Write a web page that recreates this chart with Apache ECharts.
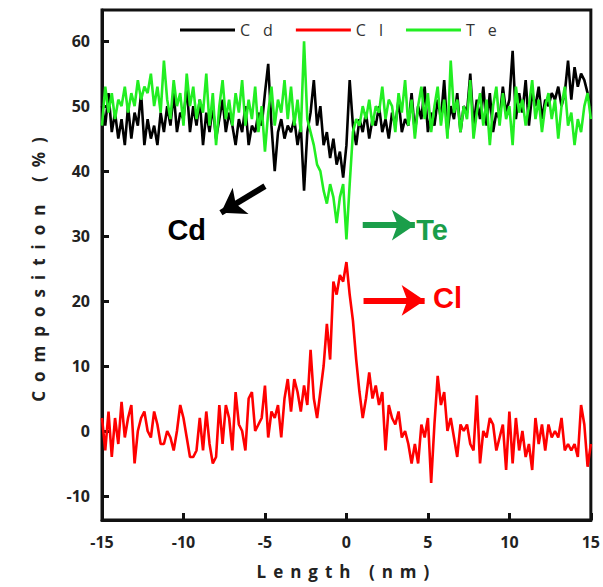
<!DOCTYPE html>
<html>
<head>
<meta charset="utf-8">
<script src="https://cdn.jsdelivr.net/npm/echarts@6/dist/echarts.min.js"></script>
<style>
html,body{margin:0;padding:0;background:#fff;}
#chart{width:603px;height:587px;}
</style>
</head>
<body>
<div id="chart"></div>
<script>
// Length axis sampling: -15 nm to 15 nm, step 0.2 nm
var lengthStart = -15, lengthStep = 0.2;

var cdValues = [
  50,47,52,46,49,45,48,44,50,45,
  49,47,52,44,48,45,47,44,49,46,
  50,47,52,46,49,48,53,46,50,47,
  51,44,49,46,50,45,48,51,46,49,
  47,44,48,46,50,44,47,46,49,47,
  52,56.5,47,40,46,48,45,47,46,48,
  44,47,37,46,49,54,47,50,44,46,
  42,45,41,43,39,44,54,47,44,48,
  46,49,45,48,47,50,46,48,45,49,
  47,51,46,48,47,52,46,50,48,53,
  46,49,47,51,48,54,46,50,48,52,
  46,50,49,55,47,51,48,53,47,52,
  46,49,48,53,49,51,58.5,48,52,49,
  54,47,52,50,53,48,51,50,52,51,
  53,50,52,57,51,56,53,55,54,52,
  50
];
var clValues = [
  2,-3,3,-4,2,-2,4.5,-1,2,4,
  -5,0,2,3,0,-1,3,1,-2,-2,
  0,-1,-3,0,4,2,-1,-4,-4,-3,
  2,-3,3,-2,-5,-4,4,-2,4,2,
  -3,6,1,0,-3,5,6,0,1,2,
  7,-1,3,2,4,-1,5,8,3,8,
  6,3,7,4,12.5,5,2,6,10,16.5,
  11,23,21,24,23,26,21,17,11,6,
  2,5,9,5,7,4,6,-3,4,2,
  1,3,-1,0,-2,-5,-2,-5,1,-1,
  2,-8,1,8.5,4,6,0,2,-1,-4,
  1,0,1,-2,-3,5.5,-5,0,-1,2,
  1,-3,-1,1,-6,3,-5,2,-3,0,
  -4,-2,-6,2,-2,1,-3,1,-1,0,
  -1,2,-3,-2,-3,-2,-4,4,1,-5.5,
  -2
];
var teValues = [
  47,53,49,52,48,51,50,53,49,52,
  50,54,51,53,52,55,50,53,49,57,
  51,48,54,50,52,47,55,50,53,48,
  51,49,55,47,52,44,50,54,48,51,
  47,52,49,54,47,51,48,53,46,50,
  43,49,53,47,51,49,54,48,53,47,
  51,46,60,48,46,44,41,40,37,35,
  38,36,32,36,38,29.5,38,46,48,47,
  50,48,51,47,50,49,53,48,51,50,
  46,52,49,54,47,51,45,50,53,48,
  52,46,50,53,47,51,45,57,49,51,
  46,50,48,54,45,49,52,47,51,44,
  50,53,47,52,48,50,44,53,49,51,
  47,50,54,48,51,46,50,52,48,51,
  45,50,53,47,49,44,48,46,50,52,
  48
];
var seriesNames = ['Cd', 'Cl', 'Te'];
var yTickValues = [-10, 0, 10, 20, 30, 40, 50, 60];

// annotations (data coordinates)
var cdArrow = [[-5.0, 37.7], [-7.7, 33.6]];
var teArrow = [[1.0, 31.7], [4.2, 31.7]];
var clArrow = [[1.05, 20.1], [4.8, 20.1]];
var cdLabelPos = [-9.8, 31.0];
var teLabelPos = [5.25, 31.0];
var clLabelPos = [6.2, 20.4];

function pairs(vals) {
  return vals.map(function (v, i) {
    return [+(lengthStart + i * lengthStep).toFixed(2), v];
  });
}

var colors = ['#000000', '#ff0000', '#22ee22'];
var chart = echarts.init(document.getElementById('chart'), null, {renderer: 'svg'});

function arrowLine(pts, color) {
  return {
    silent: true,
    symbol: ['none', 'arrow'],
    symbolSize: 23,
    label: {show: false},
    lineStyle: {color: color, width: 6, type: 'solid'},
    itemStyle: {color: color},
    emphasis: {disabled: true},
    data: [[{coord: pts[0]}, {coord: pts[1]}]]
  };
}
function textMark(pos, text, color) {
  return {
    silent: true,
    data: [{
      coord: pos, symbol: 'circle', symbolSize: 1,
      itemStyle: {color: 'rgba(0,0,0,0)'},
      label: {show: true, position: 'inside', formatter: text,
        fontSize: 29, fontWeight: 'bold', color: color,
        fontFamily: 'Liberation Sans'}
    }]
  };
}

var option = {
  animation: false,
  backgroundColor: '#fff',
  grid: {left: 102, right: 11, top: 10, bottom: 67, show: true,
    borderColor: '#111', borderWidth: 3, containLabel: false},
  legend: {
    data: seriesNames.map(function (n) { return {name: n, icon: 'rect'}; }),
    left: 180, top: 22, padding: 0,
    itemWidth: 55, itemHeight: 3, itemGap: 36,
    textStyle: {fontSize: 16, color: '#333', fontFamily: 'Open Sans'}
  },
  xAxis: {
    type: 'value', min: -15, max: 15, interval: 5,
    name: 'Length (nm)', nameLocation: 'middle', nameGap: 43,
    nameTextStyle: {fontSize: 17, fontWeight: 'bold', color: '#222', fontFamily: 'Open Sans'},
    axisLine: {show: true, onZero: false, lineStyle: {color: '#111', width: 3}},
    axisTick: {show: true, inside: true, length: 7, lineStyle: {color: '#111', width: 3}},
    axisLabel: {fontSize: 16, fontWeight: 'bold', color: '#222', margin: 14, fontFamily: 'Open Sans'},
    splitLine: {show: false}
  },
  yAxis: {
    type: 'value', min: -13.7, max: 64.8,
    name: 'Composition (%)', nameLocation: 'middle', nameGap: 55, nameRotate: 90,
    nameTextStyle: {fontSize: 17, fontWeight: 'bold', color: '#222', fontFamily: 'Open Sans'},
    axisLine: {show: true, onZero: false, lineStyle: {color: '#111', width: 3}},
    axisTick: {show: true, inside: true, length: 7, lineStyle: {color: '#111', width: 3}, customValues: yTickValues},
    axisLabel: {fontSize: 16, fontWeight: 'bold', color: '#222', margin: 12, fontFamily: 'Open Sans', customValues: yTickValues},
    splitLine: {show: false}
  },
  series: [
    {name: 'Cd', type: 'line', data: pairs(cdValues), symbol: 'none', color: colors[0],
      lineStyle: {width: 2.6, color: colors[0]},
      markLine: arrowLine(cdArrow, '#000'), markPoint: textMark(cdLabelPos, 'Cd', '#000')},
    {name: 'Cl', type: 'line', data: pairs(clValues), symbol: 'none', color: colors[1],
      lineStyle: {width: 2.6, color: colors[1]},
      markLine: arrowLine(clArrow, '#ff0000'), markPoint: textMark(clLabelPos, 'Cl', '#ff0000')},
    {name: 'Te', type: 'line', data: pairs(teValues), symbol: 'none', color: colors[2],
      lineStyle: {width: 2.6, color: colors[2]},
      markLine: arrowLine(teArrow, '#1a9e4a'), markPoint: textMark(teLabelPos, 'Te', '#1a9e4a')}
  ]
};
chart.setOption(option);

var spacing = {'Composition (%)': '9px', 'Length (nm)': '7px', 'Cd': '13px', 'Cl': '13px', 'Te': '13px'};
function applySpacing() {
  var texts = document.querySelectorAll('#chart svg text');
  texts.forEach(function (t) {
    var s = t.textContent;
    var st = t.getAttribute('style') || '';
    if (spacing[s] && st.indexOf('29px') < 0) {
      t.style.letterSpacing = spacing[s];
    }
  });
}
applySpacing();
chart.on('finished', applySpacing);
</script>
</body>
</html>
